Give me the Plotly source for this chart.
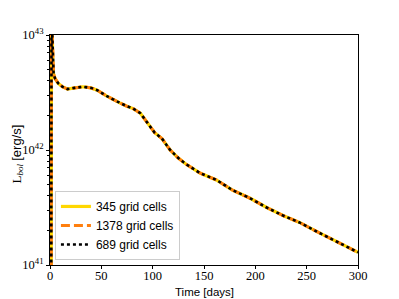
import plotly.graph_objects as go

time_days = [1.2, 1.5, 2.2, 2.8, 3.5, 5, 8, 12, 17, 24, 32, 40, 46, 55, 61, 68, 75, 81, 88,
             95, 102, 109, 117, 125, 132, 139, 146, 162, 178, 195, 211, 227, 243, 260, 280, 300]
log_L_345 = [40.5, 43.5, 43.0, 42.75, 42.66, 42.62, 42.58, 42.55, 42.53, 42.54, 42.55, 42.54,
             42.52, 42.47, 42.44, 42.41, 42.38, 42.36, 42.32, 42.24, 42.15, 42.10, 42.00, 41.93,
             41.88, 41.84, 41.80, 41.74, 41.65, 41.58, 41.50, 41.43, 41.37, 41.29, 41.20, 41.11]
log_L_1378 = list(log_L_345)
log_L_689 = list(log_L_345)

series = [
    ("345 grid cells", log_L_345, dict(color="#FFD700", width=3.2, dash="solid")),
    ("1378 grid cells", log_L_1378, dict(color="#FF7F0E", width=3, dash="9px,4px")),
    ("689 grid cells", log_L_689, dict(color="black", width=2.6, dash="dot")),
]

fig = go.Figure()
for name, logs, style in series:
    fig.add_trace(go.Scatter(x=time_days, y=[10.0 ** v for v in logs], mode="lines",
                             name=name, line=style))

serif = "Liberation Serif"
sans = "Liberation Sans"
fig.update_layout(
    width=399, height=299,
    margin=dict(l=42, r=49, t=27, b=42, autoexpand=False),
    paper_bgcolor="white", plot_bgcolor="white",
    showlegend=True,
    legend=dict(x=0.016, y=0.022, xanchor="left", yanchor="bottom",
                bordercolor="#cccccc", borderwidth=1, bgcolor="rgba(255,255,255,0.8)",
                font=dict(family=sans, size=12, color="black"),
                tracegroupgap=0, itemwidth=30),
    xaxis=dict(range=[0, 300], tickvals=[0, 50, 100, 150, 200, 250, 300],
               ticks="outside", ticklen=3, tickcolor="black", showgrid=False,
               showline=True, linecolor="black", linewidth=1, mirror=True,
               zeroline=False, automargin=False, ticklabelstandoff=-4,
               tickfont=dict(family=serif, size=12.5, color="black")),
    yaxis=dict(type="log", range=[41, 43], tickvals=[1e41, 1e42, 1e43],
               ticktext=["10<sup>41</sup>", "10<sup>42</sup>", "10<sup>43</sup>"],
               ticks="outside", ticklen=3, tickcolor="black", showgrid=False,
               showline=True, linecolor="black", linewidth=1, mirror=True,
               zeroline=False, automargin=False,
               minor=dict(ticks="outside", ticklen=2, tickcolor="black", showgrid=False,
                          tickvals=[k * 10.0 ** e for e in (41, 42) for k in range(2, 10)]),
               tickfont=dict(family=serif, size=12.5, color="black")),
    annotations=[
        dict(text="Time [days]", xref="paper", yref="paper", x=0.5, y=-0.117,
             xanchor="center", yanchor="middle", showarrow=False,
             font=dict(family=sans, size=11.5, color="black")),
        dict(text="L<sub><i>bol</i></sub> <span style=\"font-family:'Liberation Sans'\">[erg/s]</span>",
             xref="paper", yref="paper",
             x=-0.105, y=0.483, xanchor="center", yanchor="middle", textangle=-90,
             showarrow=False, font=dict(family=serif, size=13, color="black")),
    ],
)

fig.write_html("out.html")
